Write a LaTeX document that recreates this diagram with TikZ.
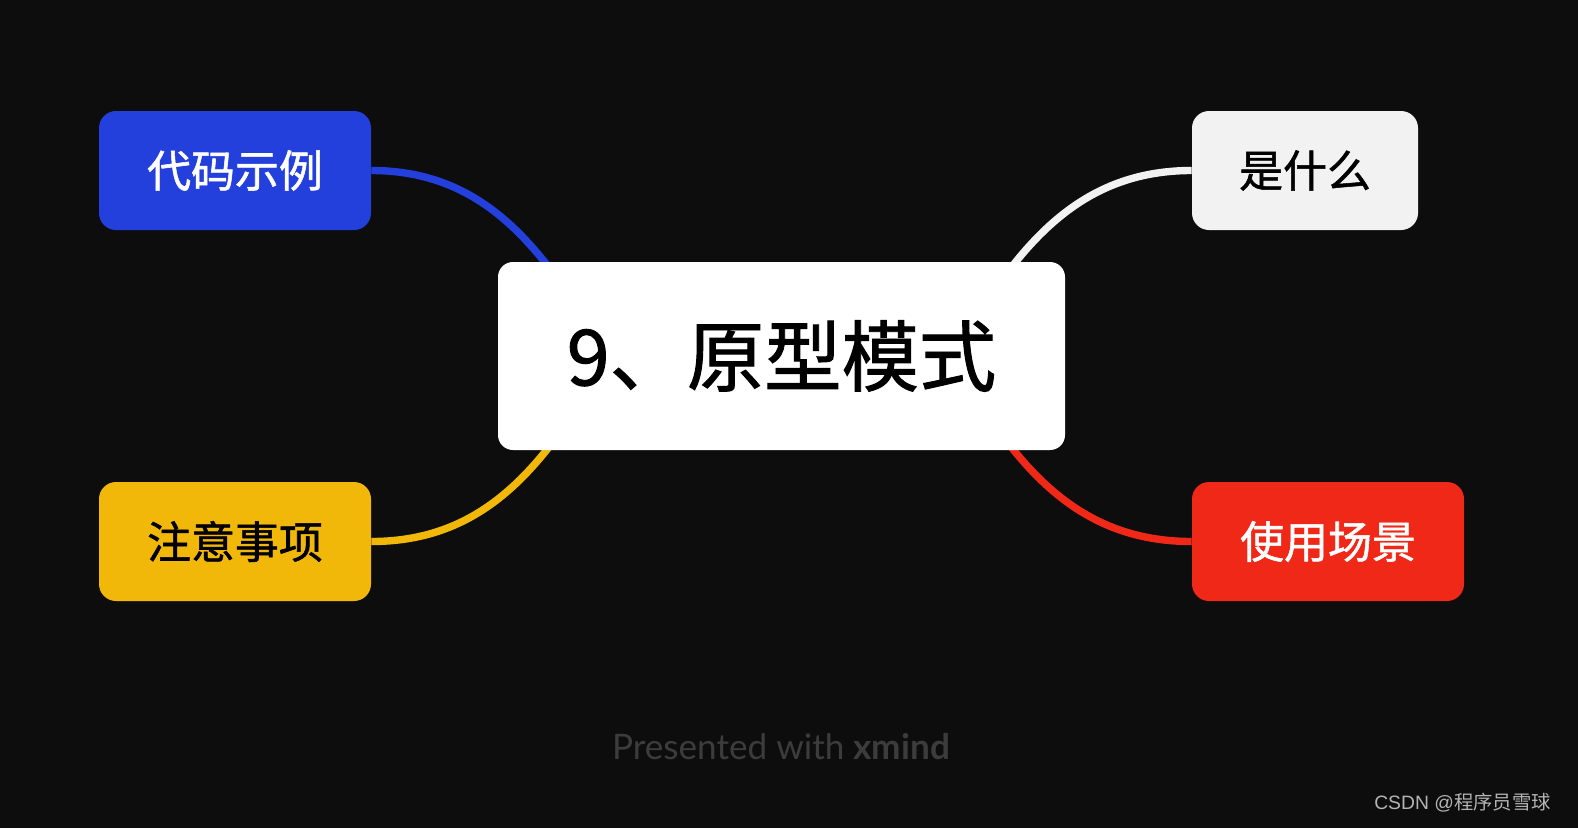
\documentclass[tikz,border=0pt]{standalone}
\usepackage{fontspec}
\usepackage{xcolor}
\newfontfamily\cjk[FakeBold=1.2]{Noto Sans CJK SC}
\newfontfamily\cjkthin{Noto Sans CJK SC}
\newfontfamily\footfont{Lato}
\newfontfamily\markfont{Liberation Sans}
\definecolor{bgdark}{HTML}{0D0D0D}
\definecolor{codeblue}{HTML}{2440DC}
\definecolor{noteyellow}{HTML}{F1B80A}
\definecolor{whatgray}{HTML}{F2F2F2}
\definecolor{usered}{HTML}{F02818}
\definecolor{footgray}{HTML}{3C3C3C}
\definecolor{markgray}{HTML}{B4B4B4}

\begin{document}
\begin{tikzpicture}
\tikzset{branch/.style={minimum height=2.38cm,rounded corners=0.34cm,inner sep=0pt,font=\cjk\fontsize{25}{25}\selectfont},
  link/.style={line width=4.2pt}}
\fill[bgdark] (0,0) rectangle (31.56,-16.56);
\useasboundingbox (0,0) rectangle (31.56,-16.56);
\draw (4.70,-3.41) node[branch,minimum width=5.44cm,fill=codeblue,text=white](code) {代码示例};
\draw (4.70,-10.83) node[branch,minimum width=5.44cm,fill=noteyellow,text=black](note) {注意事项};
\draw (26.10,-3.41) node[branch,minimum width=4.52cm,fill=whatgray,text=black](what) {是什么};
\draw (26.56,-10.83) node[branch,minimum width=5.44cm,fill=usered,text=white](use) {使用场景};
\coordinate (cnw) at (11.7,-6.4);
\coordinate (cne) at (19.5,-6.4);
\coordinate (csw) at (11.7,-7.9);
\coordinate (cse) at (19.5,-7.9);
\draw[link,codeblue] (code.east) to[out=0,in=122] (cnw);
\draw[link,whatgray] (what.west) to[out=180,in=58] (cne);
\draw[link,noteyellow] (note.east) to[out=0,in=238] (csw);
\draw[link,usered] (use.west) to[out=180,in=302] (cse);
\draw (15.63,-7.12) node[minimum width=11.34cm,minimum height=3.76cm,rounded corners=0.3cm,fill=white,inner sep=0pt,font=\cjk\fontsize{44}{44}\selectfont](proto) {9、原型模式};
\draw (15.62,-14.94) node[text=footgray,font=\footfont\fontsize{20}{20}\selectfont](foot) {Presented with \textbf{xmind}};
\draw (31.02,-16.06) node[anchor=east,inner sep=0pt,text=markgray,font=\markfont\fontsize{11}{11}\selectfont](mark) {CSDN @{\cjkthin 程序员雪球}};
\end{tikzpicture}
\end{document}
